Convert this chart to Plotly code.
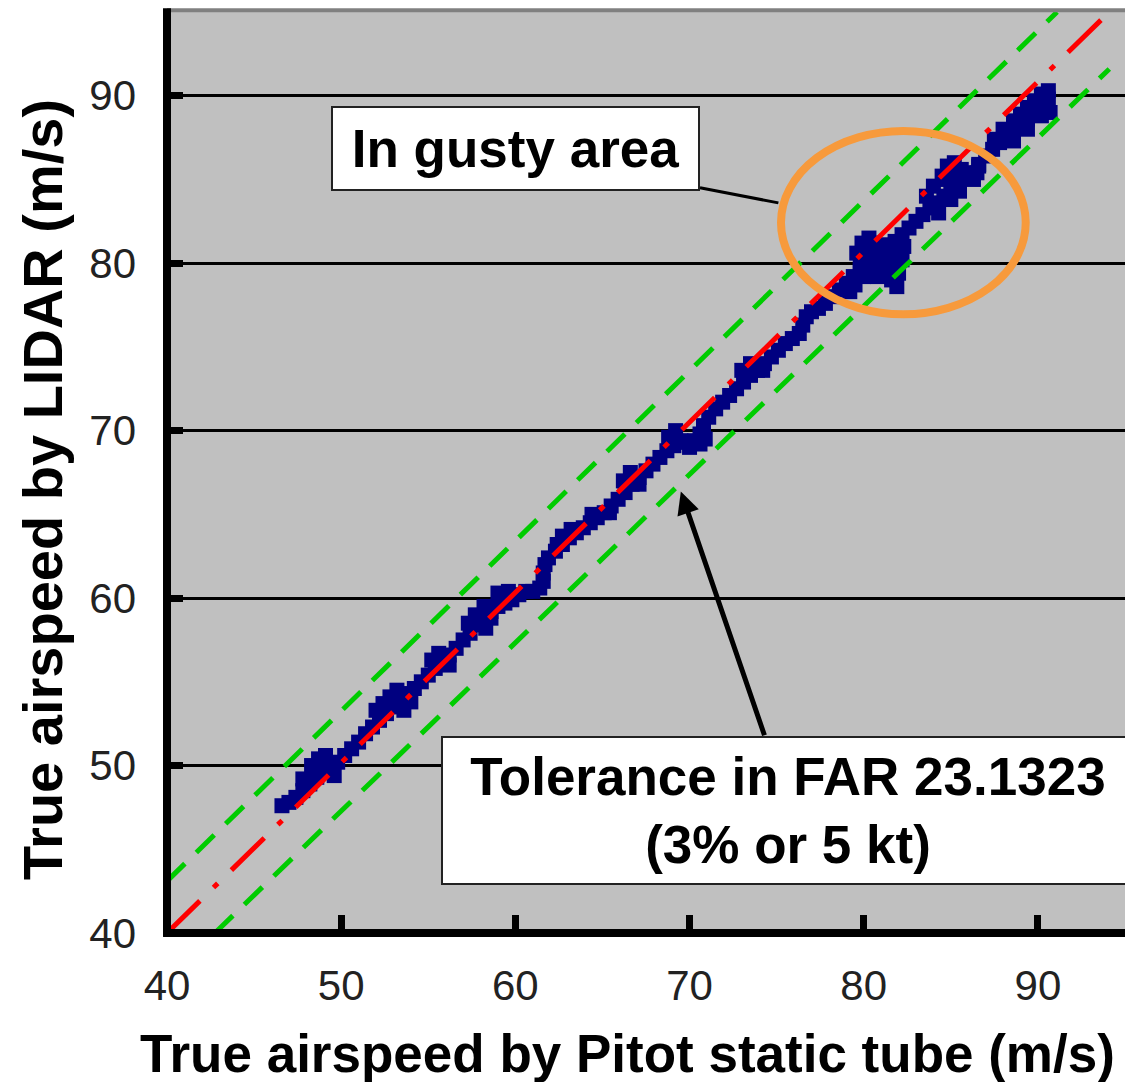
import plotly.graph_objects as go

# ---------------- data ----------------
pitot_tas = [
    46.6, 47.0, 47.4, 47.8, 48.2, 48.6, 49.0, 49.4, 49.8, 50.2, 50.6, 51.0, 51.4, 51.8, 52.2, 52.6,
    53.0, 53.4, 53.8, 54.2, 54.6, 55.0, 55.4, 55.8, 56.2, 56.6, 57.0, 57.4, 57.8, 58.2, 58.6, 59.0,
    59.4, 59.8, 60.2, 60.6, 61.0, 61.4, 61.6, 61.6, 61.7, 61.9, 62.3, 62.7, 63.1, 63.5, 63.9, 64.3,
    64.7, 65.1, 65.5, 65.9, 66.3, 66.7, 67.1, 67.5, 67.9, 68.3, 68.7, 69.1, 69.5, 69.9, 70.3, 70.6,
    70.8, 71.1, 71.5, 71.9, 72.3, 72.7, 73.1, 73.5, 73.9, 74.3, 74.7, 75.1, 75.5, 75.9, 76.3, 76.5,
    76.7, 77.0, 77.4, 77.8, 78.2, 78.6, 79.0, 79.4, 79.8, 80.2, 80.6, 81.0, 81.4, 81.8, 82.2, 82.6,
    83.0, 83.4, 83.8, 84.2, 84.6, 85.0, 85.4, 85.8, 86.2, 86.6, 87.0, 87.4, 87.8, 88.2, 88.6, 89.0,
    89.4, 89.8, 90.2, 90.6,
    47.8, 48.3, 48.7, 49.1, 49.6,
    52.0, 52.4, 52.8, 53.2, 53.6, 54.0,
    55.2, 55.6, 56.2,
    57.3, 57.7, 58.2, 58.3,
    59.0, 59.6, 58.6,
    62.4, 62.7, 63.2,
    64.4, 65.4,
    66.2, 66.6, 67.1,
    68.8, 69.2, 70.0, 70.6, 70.9,
    73.0, 73.5, 74.2,
    79.2, 79.5, 79.6, 79.9, 80.3, 80.5, 80.9, 81.3, 81.6, 81.9, 82.0, 81.2, 80.0,
    80.2, 80.6, 80.4, 80.8, 81.5, 82.2, 79.8,
    81.8, 82.3,
    83.6, 84.0, 84.5, 84.8, 85.2, 85.0, 85.5, 84.3, 86.3, 86.5, 86.6,
    84.8, 85.2, 85.6,
    87.5, 88.0, 88.6, 89.0, 89.4, 89.8, 90.2, 90.6, 89.4, 90.2, 90.7, 88.6,
]
lidar_tas = [
    47.6, 47.8, 48.1, 48.5, 48.9, 49.3, 49.6, 49.9, 50.2, 50.6, 51.0, 51.4, 51.9, 52.3, 52.7, 53.1,
    53.5, 53.9, 54.3, 54.6, 55.0, 55.4, 55.8, 56.2, 56.6, 57.0, 57.5, 57.9, 58.4, 58.8, 59.2, 59.5,
    59.7, 59.9, 60.2, 60.4, 60.4, 60.6, 61.0, 61.5, 62.0, 62.4, 62.8, 63.2, 63.6, 63.9, 64.2, 64.5,
    64.8, 65.1, 65.5, 65.9, 66.3, 66.8, 67.2, 67.6, 68.0, 68.4, 68.8, 69.1, 69.4, 69.3, 69.4, 69.8,
    70.3, 70.8, 71.3, 71.7, 72.1, 72.5, 72.9, 73.3, 73.6, 74.0, 74.4, 74.8, 75.2, 75.5, 75.8, 76.3,
    76.8, 77.1, 77.3, 77.6, 78.0, 78.4, 78.8, 79.2, 79.6, 80.0, 80.4, 80.8, 81.1, 81.3, 81.7, 82.1,
    82.5, 82.9, 83.3, 83.6, 84.0, 84.4, 84.8, 85.1, 85.4, 85.9, 86.4, 86.8, 87.2, 87.5, 87.8, 88.2,
    88.6, 89.0, 89.4, 89.8,
    49.2, 50.0, 50.4, 50.6, 49.4,
    53.3, 53.7, 54.1, 54.5, 53.3, 53.8,
    56.3, 56.7, 56.0,
    58.5, 59.0, 59.5, 58.2,
    60.3, 60.4, 58.8,
    63.2, 63.7, 64.1,
    65.0, 65.1,
    67.0, 67.5, 66.8,
    69.6, 70.0, 69.0, 69.2, 69.5,
    73.6, 74.0, 73.6,
    78.3, 78.7, 80.6, 81.2, 81.5, 81.0, 79.8, 79.5, 79.0, 78.6, 79.4, 80.2, 79.2,
    80.6, 81.2, 79.4, 79.2, 80.0, 80.2, 79.9,
    80.5, 81.0,
    84.0, 84.6, 85.2, 85.8, 86.0, 83.8, 84.3, 83.0, 85.0, 85.4, 85.8,
    85.0, 85.4, 85.6,
    87.4, 88.0, 88.5, 88.9, 89.3, 89.7, 90.1, 90.3, 88.0, 88.8, 89.0, 87.3,
]

# reference (1:1) line and tolerance band, end points
ref_x = [40.0, 93.7]
ref_y = [40.0, 94.6]
tol_upper_x = [40.0, 91.1]
tol_upper_y = [43.1, 95.0]
tol_lower_x = [42.75, 94.1]
tol_lower_y = [40.0, 91.6]

x_ticks = [40, 50, 60, 70, 80, 90]
y_ticks = [40, 50, 60, 70, 80, 90]
axis_range = [40, 95]

x_title = "True airspeed by Pitot static tube (m/s)"
y_title = "True airspeed by LIDAR (m/s)"
gust_label = "In gusty area"
tol_label = "Tolerance in FAR 23.1323<br>(3% or 5 kt)"

# ---------------- figure ----------------
FONT = "Arial, Liberation Sans, sans-serif"

fig = go.Figure()

fig.add_trace(go.Scatter(
    x=pitot_tas, y=lidar_tas, mode="markers",
    marker=dict(symbol="square", size=15, color="#000080", line=dict(width=0)),
    hoverinfo="x+y", showlegend=False,
))
fig.add_trace(go.Scatter(
    x=tol_upper_x, y=tol_upper_y, mode="lines",
    line=dict(color="#00CC00", width=5, dash="25px,16px"), showlegend=False,
))
fig.add_trace(go.Scatter(
    x=tol_lower_x, y=tol_lower_y, mode="lines",
    line=dict(color="#00CC00", width=5, dash="25px,16px"), showlegend=False,
))
fig.add_trace(go.Scatter(
    x=ref_x, y=ref_y, mode="lines",
    line=dict(color="#FF0000", width=5, dash="46px,19px,6px,19px"), showlegend=False,
))

# orange ellipse around the gusty region
fig.add_shape(type="circle", xref="x", yref="y", x0=75.25, x1=89.3, y0=76.95, y1=87.9,
              line=dict(color="#F79A3C", width=8), layer="above")
# connector from label box to ellipse
fig.add_shape(type="line", xref="x", yref="y", x0=70.6, y0=84.5, x1=75.1, y1=83.6,
              line=dict(color="black", width=3), layer="above")
# top border of plot area
fig.add_shape(type="line", xref="paper", yref="paper", x0=0, x1=1, y0=1.002, y1=1.002,
              line=dict(color="#808080", width=4), layer="above")
# axis lines (centred on the plot edges)
fig.add_shape(type="line", xref="paper", yref="paper", x0=0, x1=0, y0=-0.004, y1=1.004,
              line=dict(color="black", width=8), layer="above")
fig.add_shape(type="line", xref="paper", yref="paper", x0=-0.004, x1=1, y0=0, y1=0,
              line=dict(color="black", width=8), layer="above")

# gust label box
fig.add_annotation(x=60.0, y=86.83, xref="x", yref="y", text="<b>" + gust_label + "</b>",
                   showarrow=False, font=dict(family=FONT, size=53, color="black"),
                   bgcolor="white", bordercolor="#222", borderwidth=2, borderpad=0,
                   width=365, height=81)
# tolerance label box
fig.add_annotation(x=75.65, y=47.32, xref="x", yref="y", text="<b>" + tol_label + "</b>",
                   showarrow=False, font=dict(family=FONT, size=53, color="black"),
                   bgcolor="white", bordercolor="#222", borderwidth=2, borderpad=0,
                   width=690, height=145)
# arrow pointing to the tolerance line
fig.add_annotation(x=69.5, y=66.36, xref="x", yref="y", ax=74.33, ay=51.72, axref="x", ayref="y",
                   text="", showarrow=True, arrowhead=2, arrowsize=0.9, arrowwidth=5,
                   arrowcolor="black")

# axis titles (positions as fractions of the plot area)
fig.add_annotation(x=(627 - 167) / 958, y=-(1053 - 933) / 921, xref="paper", yref="paper",
                   text="<b>" + x_title + "</b>", showarrow=False,
                   font=dict(family=FONT, size=53, color="black"),
                   xanchor="center", yanchor="middle")
fig.add_annotation(x=-(167 - 42) / 958, y=(933 - 490) / 921, xref="paper", yref="paper",
                   text="<b>" + y_title + "</b>", showarrow=False, textangle=-90,
                   font=dict(family=FONT, size=56, color="black"),
                   xanchor="center", yanchor="middle")

axis_common = dict(
    range=axis_range, showline=False,
    ticks="inside", tickwidth=7, tickcolor="black",
    tickfont=dict(family=FONT, size=42, color="#222"),
    zeroline=False, fixedrange=True,
)
fig.update_xaxes(tickvals=x_ticks, ticktext=[str(v) for v in x_ticks], showgrid=False,
                 ticklen=18, ticklabelstandoff=24, **axis_common)
fig.update_yaxes(tickvals=y_ticks, ticktext=[str(v) for v in y_ticks], showgrid=True,
                 gridcolor="black", gridwidth=3, ticklen=16, ticklabelstandoff=30, **axis_common)

fig.update_layout(
    width=1125, height=1082,
    margin=dict(l=167, r=0, t=12, b=149, pad=0),
    plot_bgcolor="#C0C0C0", paper_bgcolor="white",
    showlegend=False,
    font=dict(family=FONT),
)

# remove the default page margin so the figure fills the 1125x1082 window exactly
fig.write_html(
    "out.html",
    config={"displayModeBar": False},
    post_script="document.body.style.margin='0';document.body.style.overflow='hidden';",
)
